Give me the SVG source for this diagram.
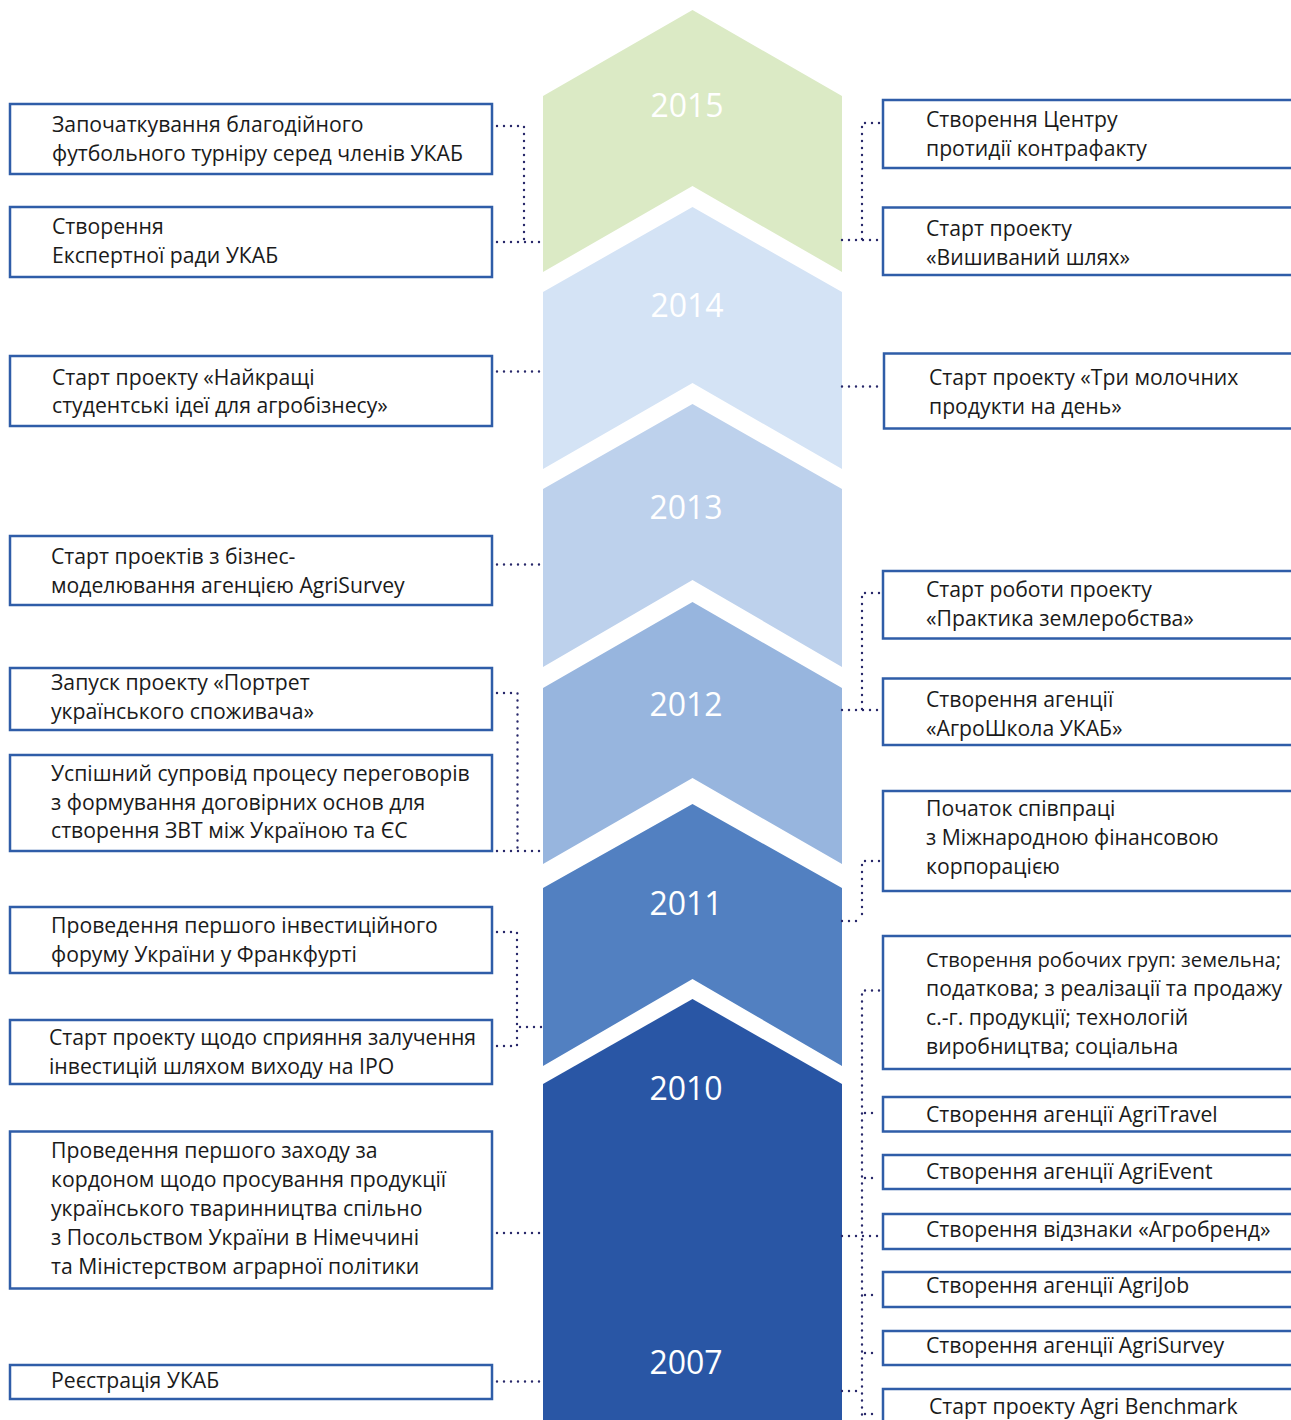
<svg xmlns="http://www.w3.org/2000/svg" width="1291" height="1420" viewBox="0 0 1291 1420">
<style>
.box{fill:#fff;stroke:#2f5da8;stroke-width:2.5}
.t{font-family:"Open Sans","Noto Sans","DejaVu Sans",sans-serif;font-size:21.2px;fill:#1a1a1a}
.yr{font-family:"Open Sans","Noto Sans",sans-serif;font-size:32px;fill:#fff;text-anchor:middle}
.dot{fill:none;stroke:#28286a;stroke-width:2.4;stroke-dasharray:0 7;stroke-linecap:round}
</style>
<rect width="1291" height="1420" fill="#fff"/>
<g id="timeline">
<g id="y2015"><polygon points="543,96 692.5,10 842,96 842,272 692.5,186 543,272" fill="#dbeac5"/><text class="yr" x="687" y="117">2015</text></g>
<g id="y2014"><polygon points="543,292 692.5,207 842,292 842,469 692.5,383 543,469" fill="#d4e3f5"/><text class="yr" x="687" y="317">2014</text></g>
<g id="y2013"><polygon points="543,489 692.5,404 842,489 842,667 692.5,580 543,667" fill="#bdd1ec"/><text class="yr" x="686" y="519">2013</text></g>
<g id="y2012"><polygon points="543,688 692.5,602 842,688 842,864 692.5,778 543,864" fill="#97b5de"/><text class="yr" x="686" y="716">2012</text></g>
<g id="y2011"><polygon points="543,888 692.5,804 842,888 842,1066 692.5,979 543,1066" fill="#5280c1"/><text class="yr" x="686" y="915">2011</text></g>
<g id="y2010"><polygon points="543,1084 692.5,999 842,1084 842,1420 543,1420" fill="#2956a5"/><text class="yr" x="686" y="1100">2010</text><text class="yr" x="686" y="1374">2007</text></g>
</g>
<g id="connectors">
<path class="dot" d="M497,126 H524 V242 M497,242 H545"/>
<path class="dot" d="M497,371.5 H545"/>
<path class="dot" d="M497,564.5 H545"/>
<path class="dot" d="M497,693 H517.5 V851 M497,851 H545"/>
<path class="dot" d="M497,932 H517 V1046 M497,1046 H517 M520,1027 H545"/>
<path class="dot" d="M497,1233 H545"/>
<path class="dot" d="M497,1381.5 H545"/>
<path class="dot" d="M879,123 H862 V240 M842,240 H879"/>
<path class="dot" d="M842,386.5 H882"/>
<path class="dot" d="M879,593 H862 V710 M842,710 H879"/>
<path class="dot" d="M879,861 H862 V921 M842,921 H862"/>
<path class="dot" d="M879,990.5 H862 V1416"/>
<path class="dot" d="M865,1113 H879 M865,1178 H879 M842,1236 H879 M865,1295 H879 M865,1353 H879 M842,1391 H860 M865,1414 H879"/>
</g>
<g id="left">
<g id="l1"><rect class="box" x="10" y="104" width="482" height="70"/><text class="t" x="52" y="132">Започаткування благодійного</text><text class="t" x="52" y="161">футбольного турніру серед членів УКАБ</text></g>
<g id="l2"><rect class="box" x="10" y="207" width="482" height="70"/><text class="t" x="52" y="234">Створення</text><text class="t" x="52" y="263">Експертної ради УКАБ</text></g>
<g id="l3"><rect class="box" x="10" y="356" width="482" height="70"/><text class="t" x="52" y="385">Старт проекту «Найкращі</text><text class="t" x="52" y="413">студентські ідеї для агробізнесу»</text></g>
<g id="l4"><rect class="box" x="10" y="536" width="482" height="69"/><text class="t" x="51" y="564">Старт проектів з бізнес-</text><text class="t" x="51" y="593">моделювання агенцією AgriSurvey</text></g>
<g id="l5"><rect class="box" x="10" y="668" width="482" height="62"/><text class="t" x="51" y="690">Запуск проекту «Портрет</text><text class="t" x="51" y="719">українського споживача»</text></g>
<g id="l6"><rect class="box" x="10" y="755" width="482" height="96"/><text class="t" x="51" y="781">Успішний супровід процесу переговорів</text><text class="t" x="51" y="810">з формування договірних основ для</text><text class="t" x="51" y="838">створення ЗВТ між Україною та ЄС</text></g>
<g id="l7"><rect class="box" x="10" y="907" width="482" height="66"/><text class="t" x="51" y="933">Проведення першого інвестиційного</text><text class="t" x="51" y="962">форуму України у Франкфурті</text></g>
<g id="l8"><rect class="box" x="10" y="1020" width="482" height="64"/><text class="t" x="49" y="1045">Старт проекту щодо сприяння залучення</text><text class="t" x="49" y="1074">інвестицій шляхом виходу на IPO</text></g>
<g id="l9"><rect class="box" x="10" y="1131.5" width="482" height="157"/><text class="t" x="51" y="1158">Проведення першого заходу за</text><text class="t" x="51" y="1187">кордоном щодо просування продукції</text><text class="t" x="51" y="1216">українського тваринництва спільно</text><text class="t" x="51" y="1245">з Посольством України в Німеччині</text><text class="t" x="51" y="1274">та Міністерством аграрної політики</text></g>
<g id="l10"><rect class="box" x="10" y="1365" width="482" height="34"/><text class="t" x="51" y="1388">Реєстрація УКАБ</text></g>
</g>
<g id="right">
<g id="r1"><rect class="box" x="883" y="100" width="420" height="68"/><text class="t" x="926" y="127">Створення Центру</text><text class="t" x="926" y="156">протидії контрафакту</text></g>
<g id="r2"><rect class="box" x="883" y="207.5" width="420" height="67.5"/><text class="t" x="926" y="236">Старт проекту</text><text class="t" x="926" y="265">«Вишиваний шлях»</text></g>
<g id="r3"><rect class="box" x="884" y="353.5" width="420" height="75"/><text class="t" x="929" y="385">Старт проекту «Три молочних</text><text class="t" x="929" y="414">продукти на день»</text></g>
<g id="r4"><rect class="box" x="883" y="571" width="420" height="67.5"/><text class="t" x="926" y="597">Старт роботи проекту</text><text class="t" x="926" y="626">«Практика землеробства»</text></g>
<g id="r5"><rect class="box" x="883" y="678.5" width="420" height="66.5"/><text class="t" x="926" y="707">Створення агенції</text><text class="t" x="926" y="736">«АгроШкола УКАБ»</text></g>
<g id="r6"><rect class="box" x="883" y="791" width="420" height="100"/><text class="t" x="926" y="816">Початок співпраці</text><text class="t" x="926" y="845">з Міжнародною фінансовою</text><text class="t" x="926" y="874">корпорацією</text></g>
<g id="r7"><rect class="box" x="883" y="936" width="420" height="133"/><text class="t" x="926" y="967" style="font-size:20.6px" textLength="355" lengthAdjust="spacingAndGlyphs">Створення робочих груп: земельна;</text><text class="t" x="926" y="996">податкова; з реалізації та продажу</text><text class="t" x="926" y="1025">с.-г. продукції; технологій</text><text class="t" x="926" y="1054">виробництва; соціальна</text></g>
<g id="r8"><rect class="box" x="883" y="1097" width="420" height="34.5"/><text class="t" x="926" y="1122">Створення агенції AgriTravel</text></g>
<g id="r9"><rect class="box" x="883" y="1155" width="420" height="34"/><text class="t" x="926" y="1179">Створення агенції AgriEvent</text></g>
<g id="r10"><rect class="box" x="883" y="1214" width="420" height="35"/><text class="t" x="926" y="1237">Створення відзнаки «Агробренд»</text></g>
<g id="r11"><rect class="box" x="883" y="1272" width="420" height="35"/><text class="t" x="926" y="1293">Створення агенції AgriJob</text></g>
<g id="r12"><rect class="box" x="883" y="1331" width="420" height="34"/><text class="t" x="926" y="1353">Створення агенції AgriSurvey</text></g>
<g id="r13"><rect class="box" x="883" y="1389" width="420" height="40"/><text class="t" x="929" y="1414">Старт проекту Agri Benchmark</text></g>
</g>
</svg>
